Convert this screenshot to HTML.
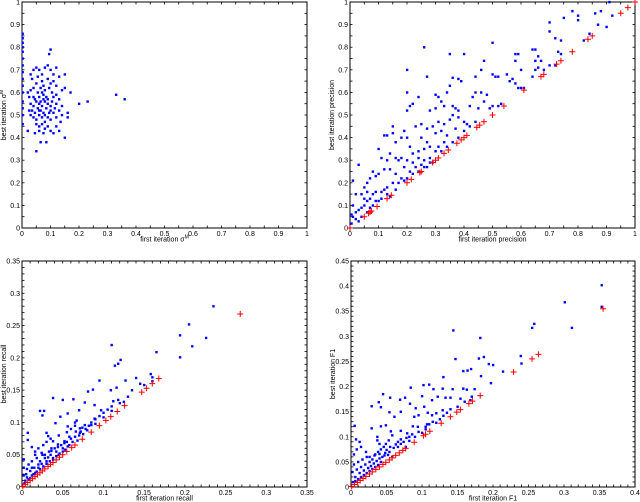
<!DOCTYPE html>
<html><head><meta charset="utf-8"><style>
html,body{margin:0;padding:0;background:#fff;}
svg{display:block;font-family:"Liberation Sans",sans-serif;}
</style></head><body>
<svg id="fig" width="640" height="502" viewBox="0 0 640 502"></svg>
<script>
// Panel 1: sigma^M
const p1Blue = [
[0.002,0.46],[0.002,0.5],[0.002,0.53],[0.002,0.56],[0.002,0.6],[0.002,0.63],[0.002,0.66],[0.002,0.69],[0.002,0.72],[0.002,0.75],[0.002,0.78],[0.002,0.8],[0.002,0.82],[0.002,0.84],[0.002,0.86],
[0.1,0.79],[0.095,0.77],[0.02,0.43],[0.05,0.34],[0.065,0.38],[0.085,0.38],[0.045,0.42],[0.15,0.4],[0.16,0.49],[0.2,0.55],[0.23,0.56],[0.17,0.6],[0.15,0.68],[0.33,0.59],[0.36,0.57],
[0.03,0.68],[0.04,0.7],[0.05,0.71],[0.06,0.7],[0.07,0.68],[0.08,0.71],[0.09,0.72],[0.1,0.7],[0.11,0.68],[0.12,0.71],[0.13,0.67],[0.035,0.66],[0.05,0.64],[0.07,0.65],[0.09,0.66],[0.11,0.65],
[0.03,0.61],[0.04,0.62],[0.055,0.6],[0.065,0.62],[0.08,0.61],[0.095,0.62],[0.105,0.6],[0.12,0.59],[0.14,0.61],[0.15,0.62],[0.025,0.58],[0.045,0.57],[0.06,0.58],[0.075,0.59],[0.09,0.57],[0.11,0.58],[0.13,0.57],
[0.03,0.55],[0.04,0.54],[0.05,0.56],[0.06,0.55],[0.07,0.54],[0.08,0.56],[0.09,0.55],[0.1,0.54],[0.12,0.55],[0.14,0.54],[0.035,0.52],[0.045,0.51],[0.055,0.53],[0.065,0.52],[0.075,0.51],[0.085,0.53],[0.1,0.52],[0.11,0.51],[0.13,0.52],[0.16,0.51],
[0.03,0.5],[0.04,0.49],[0.05,0.48],[0.06,0.5],[0.07,0.49],[0.08,0.47],[0.09,0.49],[0.1,0.48],[0.12,0.49],[0.14,0.5],[0.05,0.46],[0.06,0.45],[0.07,0.46],[0.08,0.44],[0.09,0.45],[0.1,0.43],[0.12,0.45],[0.13,0.43],[0.06,0.43],[0.075,0.42],[0.11,0.42],
[0.065,0.56],[0.075,0.57],[0.085,0.58],[0.07,0.6],[0.06,0.52],[0.08,0.5],[0.095,0.51],[0.105,0.56],[0.115,0.53],[0.12,0.63],[0.1,0.64],[0.04,0.58],[0.02,0.6],[0.025,0.52],[0.135,0.47],[0.055,0.67],[0.075,0.63]
];
// Panel 2: precision
const p2Blue = [
[0.26,0.8],[0.2,0.7],[0.27,0.67],[0.2,0.6],[0.24,0.58],[0.21,0.54],[0.22,0.55],[0.2,0.52],[0.35,0.77],[0.4,0.77],[0.38,0.66],[0.36,0.665],[0.39,0.65],[0.44,0.67],[0.35,0.63],[0.5,0.82],[0.47,0.74],[0.46,0.7],[0.5,0.68],[0.51,0.67],[0.52,0.67],[0.55,0.68],[0.56,0.65],[0.57,0.66],[0.58,0.64],[0.59,0.62],[0.6,0.62],[0.61,0.62],[0.58,0.77],[0.59,0.77],[0.58,0.74],[0.6,0.7],[0.64,0.79],[0.65,0.79],[0.66,0.76],[0.67,0.74],[0.65,0.74],[0.65,0.7],[0.66,0.71],[0.64,0.67],[0.68,0.7],[0.7,0.72],[0.72,0.72],[0.7,0.87],[0.7,0.91],[0.72,0.84],[0.74,0.83],[0.75,0.93],[0.74,0.77],[0.73,0.78],[0.8,0.94],[0.8,0.92],[0.82,0.83],[0.84,0.86],[0.86,0.95],[0.88,0.96],[0.87,0.9],[0.9,0.89],[0.91,1.0],[0.92,0.94],[0.78,0.96],
[0.3,0.59],[0.31,0.58],[0.32,0.56],[0.33,0.54],[0.3,0.53],[0.28,0.52],[0.34,0.6],[0.36,0.54],[0.37,0.53],[0.38,0.52],[0.36,0.5],[0.35,0.48],[0.33,0.46],[0.31,0.47],[0.29,0.45],[0.27,0.44],[0.25,0.46],[0.23,0.45],[0.3,0.42],[0.32,0.43],[0.34,0.41],[0.37,0.44],[0.38,0.49],[0.4,0.47],[0.41,0.46],[0.42,0.54],[0.43,0.58],[0.44,0.6],[0.46,0.6],[0.47,0.56],[0.48,0.59],[0.45,0.53],[0.49,0.53],[0.5,0.54],[0.52,0.54],[0.53,0.55],[0.25,0.4],[0.27,0.38],[0.28,0.36],[0.26,0.35],[0.24,0.34],[0.22,0.33],[0.21,0.36],[0.2,0.4],[0.19,0.43],[0.18,0.4],[0.15,0.45],[0.15,0.42],[0.12,0.41],[0.13,0.41],[0.16,0.38],[0.18,0.31],[0.2,0.3],[0.22,0.29],[0.24,0.31],[0.26,0.3],[0.28,0.31],[0.3,0.34],[0.31,0.36],[0.33,0.38],[0.23,0.27],[0.25,0.28],[0.27,0.27],[0.29,0.29],[0.21,0.25],[0.19,0.27],[0.17,0.3],[0.14,0.33],[0.16,0.31],[0.13,0.3],[0.11,0.31],[0.12,0.26],[0.1,0.24],[0.09,0.23],[0.08,0.25],[0.07,0.22],[0.06,0.2],[0.05,0.18],[0.03,0.28],[0.1,0.35],[0.14,0.26],[0.16,0.24],[0.18,0.22],[0.2,0.22],[0.22,0.24],[0.24,0.25],[0.15,0.2],[0.13,0.18],[0.12,0.17],[0.11,0.16],[0.09,0.16],[0.08,0.15],[0.07,0.13],[0.06,0.12],[0.05,0.1],[0.04,0.09],[0.03,0.08],[0.02,0.07],[0.01,0.05],[0.01,0.1],[0.02,0.15],[0.01,0.21],[0.04,0.15],[0.05,0.13],[0.06,0.16],[0.08,0.1],[0.09,0.12],[0.1,0.12],[0.11,0.13],[0.13,0.15],[0.14,0.14],[0.16,0.17],[0.17,0.2],[0.19,0.21],[0.02,0.04],[0.03,0.03],[0.005,0.02],[0.005,0.06],[0.04,0.05],[0.06,0.07],[0.07,0.09],[0.26,0.27],[0.28,0.29],[0.32,0.34],[0.34,0.36],[0.36,0.38],[0.38,0.4],[0.4,0.43],[0.42,0.45],[0.44,0.47]
];
const p2Red = [0,0.05,0.065,0.07,0.075,0.095,0.13,0.145,0.2,0.215,0.245,0.25,0.29,0.3,0.31,0.33,0.345,0.375,0.39,0.4,0.41,0.445,0.455,0.47,0.5,0.54,0.61,0.67,0.68,0.725,0.74,0.78,0.835,0.85,0.95,0.975,1.0];
// Panel 3: recall
const p3Blue = [
[0.235,0.28],[0.205,0.252],[0.194,0.235],[0.226,0.231],[0.209,0.218],[0.165,0.209],[0.194,0.201],[0.11,0.22],[0.121,0.197],[0.118,0.191],[0.114,0.188],[0.158,0.175],[0.14,0.169],[0.16,0.164],[0.127,0.165],[0.095,0.165],[0.087,0.151],[0.109,0.15],[0.116,0.154],[0.081,0.148],[0.038,0.138],[0.05,0.135],[0.063,0.136],[0.077,0.131],[0.112,0.133],[0.118,0.135],[0.022,0.118],[0.027,0.118],[0.025,0.111],[0.047,0.109],[0.056,0.114],[0.07,0.119],[0.089,0.127],[0.097,0.119],[0.089,0.106],[0.041,0.099],[0.056,0.094],[0.065,0.095],[0.071,0.091],[0.067,0.103],[0.077,0.096],[0.085,0.096],[0.071,0.084],[0.03,0.084],[0.032,0.079],[0.007,0.084],[0.007,0.073],[0.012,0.062],[0.038,0.071],[0.044,0.066],[0.052,0.071],[0.056,0.063],[0.024,0.053],[0.036,0.056],[0.016,0.05],[0.002,0.043],
[0.002,0.03],[0.005,0.02],[0.008,0.035],[0.01,0.025],[0.012,0.04],[0.015,0.03],[0.018,0.045],[0.02,0.035],[0.022,0.04],[0.025,0.05],[0.028,0.045],[0.03,0.04],[0.033,0.055],[0.035,0.05],[0.038,0.045],[0.04,0.06],[0.042,0.055],[0.045,0.05],[0.048,0.065],[0.05,0.06],[0.053,0.058],[0.055,0.07],[0.058,0.065],[0.06,0.075],[0.062,0.07],[0.065,0.078],[0.068,0.072],[0.07,0.08],[0.072,0.086],[0.075,0.082],[0.078,0.09],[0.08,0.088],[0.082,0.095],[0.004,0.01],[0.006,0.015],[0.01,0.014],[0.014,0.02],[0.018,0.024],[0.022,0.028],[0.026,0.032],[0.03,0.036],[0.034,0.04],[0.038,0.042],[0.042,0.048],[0.046,0.052],[0.05,0.055],[0.016,0.055],[0.02,0.06],[0.026,0.065],[0.03,0.07],[0.035,0.075],[0.045,0.08],[0.055,0.085],[0.06,0.09],[0.065,0.1],[0.085,0.1],[0.09,0.105],[0.095,0.11],[0.1,0.115],[0.105,0.12],[0.11,0.125],[0.12,0.13],[0.13,0.14],[0.135,0.15],[0.145,0.16],[0.15,0.158],[0.16,0.17],
[0.003,0.006],[0.008,0.012],[0.012,0.018],[0.002,0.018],[0.006,0.028],[0.012,0.03],[0.016,0.022],[0.02,0.03],[0.024,0.036],[0.028,0.05],[0.032,0.046],[0.036,0.06],[0.044,0.062],[0.052,0.068],[0.058,0.078],[0.066,0.086],[0.074,0.092],[0.1,0.108],[0.09,0.098],[0.11,0.118],[0.125,0.132]
];
const p3Red = [0.001,0.004,0.007,0.01,0.013,0.016,0.019,0.022,0.025,0.028,0.032,0.035,0.038,0.042,0.046,0.05,0.055,0.061,0.065,0.074,0.085,0.095,0.103,0.109,0.117,0.126,0.147,0.153,0.16,0.168,0.268];
// Panel 4: F1
const p4Blue = [
[0.353,0.402],[0.353,0.359],[0.301,0.368],[0.311,0.317],[0.258,0.325],[0.255,0.317],[0.182,0.297],[0.144,0.312],
[0.147,0.255],[0.187,0.259],[0.18,0.256],[0.194,0.245],[0.2,0.243],[0.239,0.261],[0.24,0.246],[0.158,0.231],[0.164,0.232],[0.169,0.235],[0.183,0.221],[0.214,0.23],[0.13,0.219],[0.197,0.207],[0.102,0.203],[0.11,0.204],[0.116,0.195],[0.129,0.196],[0.143,0.195],[0.158,0.196],[0.163,0.194],[0.174,0.195],[0.084,0.198],[0.1,0.181],[0.114,0.173],[0.122,0.18],[0.133,0.178],[0.14,0.178],[0.154,0.176],[0.168,0.173],[0.045,0.185],[0.055,0.178],[0.069,0.174],[0.076,0.178],[0.083,0.166],[0.039,0.169],[0.029,0.161],[0.042,0.159],[0.054,0.149],[0.061,0.14],[0.07,0.15],[0.091,0.157],[0.095,0.143],[0.103,0.16],[0.108,0.148],[0.114,0.143],[0.12,0.147],[0.129,0.153],[0.089,0.14],[0.087,0.121],[0.094,0.12],[0.105,0.12],[0.107,0.125],[0.049,0.123],[0.042,0.121],[0.029,0.117],[0.056,0.111],[0.058,0.103],[0.07,0.112],[0.079,0.107],[0.082,0.1],[0.005,0.122],[0.007,0.095],[0.014,0.08],[0.037,0.1],[0.037,0.093],[0.04,0.086],[0.049,0.086],[0.053,0.093],[0.066,0.09],[0.07,0.086],[0.077,0.08],[0.021,0.07],[0.026,0.06],[0.033,0.063],[0.04,0.066],[0.047,0.063],[0.054,0.07],[0.058,0.06],
[0.002,0.03],[0.004,0.045],[0.006,0.02],[0.008,0.035],[0.01,0.05],[0.012,0.028],[0.014,0.04],[0.016,0.055],[0.018,0.033],[0.02,0.045],[0.022,0.06],[0.024,0.038],[0.026,0.05],[0.028,0.042],[0.03,0.055],[0.032,0.047],[0.034,0.065],[0.036,0.052],[0.038,0.07],[0.04,0.057],[0.042,0.075],[0.044,0.06],[0.046,0.08],[0.048,0.068],[0.05,0.074],[0.052,0.064],[0.055,0.08],[0.06,0.078],[0.063,0.085],[0.066,0.08],[0.07,0.095],[0.074,0.09],[0.078,0.098],[0.082,0.092],[0.086,0.105],[0.09,0.1],[0.095,0.11],[0.1,0.108],[0.105,0.115],[0.11,0.125],[0.115,0.13],[0.12,0.128],[0.125,0.135],[0.13,0.142],[0.135,0.148],[0.14,0.155],[0.15,0.16],[0.16,0.17],[0.17,0.18],[0.003,0.01],[0.006,0.012],[0.01,0.016],[0.014,0.02],[0.018,0.024],[0.022,0.028],[0.026,0.032],[0.03,0.036],[0.034,0.04],[0.038,0.044],[0.042,0.05],[0.004,0.065],[0.008,0.075],[0.012,0.09]
];
const p4Red = [0.001,0.005,0.009,0.013,0.017,0.021,0.026,0.03,0.035,0.04,0.045,0.049,0.054,0.058,0.063,0.068,0.073,0.077,0.089,0.102,0.105,0.111,0.127,0.14,0.149,0.154,0.166,0.171,0.182,0.229,0.255,0.264,0.355];
// tick labels
const p1Ticks = ["0","0.1","0.2","0.3","0.4","0.5","0.6","0.7","0.8","0.9","1"];
const p3Ticks = ["0","0.05","0.1","0.15","0.2","0.25","0.3","0.35"];
const p4XTicks = ["0","0.05","0.1","0.15","0.2","0.25","0.3","0.35","0.4"];
const p4YTicks = ["0","0.05","0.1","0.15","0.2","0.25","0.3","0.35","0.4","0.45"];

const NS="http://www.w3.org/2000/svg";
const svg=document.getElementById('fig');
function mk(tag,attrs,parent){const e=document.createElementNS(NS,tag);for(const k in attrs)e.setAttribute(k,attrs[k]);(parent||svg).appendChild(e);return e;}

function panel(o){
  const g=mk('g',{});
  
  
  const L=o.x0,R=o.x1,T=o.y0,B=o.y1;
  const sx=v=>L+(v-o.xmin)/(o.xmax-o.xmin)*(R-L);
  const sy=v=>B-(v-o.ymin)/(o.ymax-o.ymin)*(B-T);
  const frame=mk('rect',{x:L,y:T,width:R-L,height:B-T,fill:'#fff',stroke:'#000','stroke-width':1},g);
  
  
  const tk=mk('g',{stroke:'#000','stroke-width':0.8},g);
  
  
  const nx=Math.round((o.xmax-o.xmin)/o.xminor);
  for(let i=0;i<=nx;i++){const x=sx(o.xmin+i*o.xminor);mk('line',{x1:x,y1:B,x2:x,y2:B-2.5},tk);mk('line',{x1:x,y1:T,x2:x,y2:T+2.5},tk);}
  const ny=Math.round((o.ymax-o.ymin)/o.yminor);
  for(let i=0;i<=ny;i++){const y=sy(o.ymin+i*o.yminor);mk('line',{x1:L,y1:y,x2:L+2.5,y2:y},tk);mk('line',{x1:R,y1:y,x2:R-2.5,y2:y},tk);}
  o.xticks.forEach((t,i)=>{const v=o.xmin+i*o.xstep;const tx=mk('text',{x:sx(v),y:B+8,'font-size':7,'text-anchor':'middle',fill:'#000'},g);tx.textContent=t;
    
    });
  o.yticks.forEach((t,i)=>{const v=o.ymin+i*o.ystep;const tx=mk('text',{x:L-2,y:sy(v)+2.5,'font-size':7,'text-anchor':'end',fill:'#000'},g);tx.textContent=t;
    
    });
  const xt=mk('text',{x:(L+R)/2,y:B+13.5,'font-size':7,'text-anchor':'middle',fill:'#000'},g);
  xt.innerHTML=o.xlabel;
  
  
  const yt=mk('text',{x:0,y:0,'font-size':7,'text-anchor':'middle',fill:'#000',transform:`translate(${L-16},${(T+B)/2}) rotate(-90)`},g);
  yt.innerHTML=o.ylabel;
  
  
  const bg=mk('g',{fill:'#0000ff'},g);
  
  
  o.blue.forEach(p=>{const d=mk('rect',{x:sx(p[0])-1.1,y:sy(p[1])-1.1,width:2.4,height:2.4},bg);
    
    });
  const rg=mk('g',{stroke:'#ff0000','stroke-width':1},g);
  
  
  (o.red||[]).forEach(v=>{const x=sx(v),y=sy(v);const pl=mk('path',{d:`M${x-3},${y}H${x+3}M${x},${y-3}V${y+3}`},rg);
    
    });
}
panel({name:'sigma-panel',x0:22,x1:307,y0:2,y1:228,xmin:0,xmax:1,ymin:0,ymax:1,xstep:0.1,ystep:0.1,xminor:0.05,yminor:0.05,xticks:p1Ticks,yticks:p1Ticks,
  xlabel:'first iteration σ<tspan font-size="5" dy="-3">M</tspan>',ylabel:'best iteration σ<tspan font-size="5" dy="-3">M</tspan>',blue:p1Blue,red:[]});
panel({name:'precision-panel',x0:350,x1:635,y0:2,y1:228,xmin:0,xmax:1,ymin:0,ymax:1,xstep:0.1,ystep:0.1,xminor:0.05,yminor:0.05,xticks:p1Ticks,yticks:p1Ticks,
  xlabel:'first iteration precision',ylabel:'best iteration precision',blue:p2Blue,red:p2Red});
panel({name:'recall-panel',x0:22,x1:307,y0:261,y1:487,xmin:0,xmax:0.35,ymin:0,ymax:0.35,xstep:0.05,ystep:0.05,xminor:0.01,yminor:0.01,xticks:p3Ticks,yticks:p3Ticks,
  xlabel:'first iteration recall',ylabel:'best iteration recall',blue:p3Blue,red:p3Red});
panel({name:'f1-panel',x0:351,x1:635,y0:261,y1:487,xmin:0,xmax:0.4,ymin:0,ymax:0.45,xstep:0.05,ystep:0.05,xminor:0.01,yminor:0.01,xticks:p4XTicks,yticks:p4YTicks,
  xlabel:'first iteration F1',ylabel:'best iteration F1',blue:p4Blue,red:p4Red});
</script>
</body></html>
